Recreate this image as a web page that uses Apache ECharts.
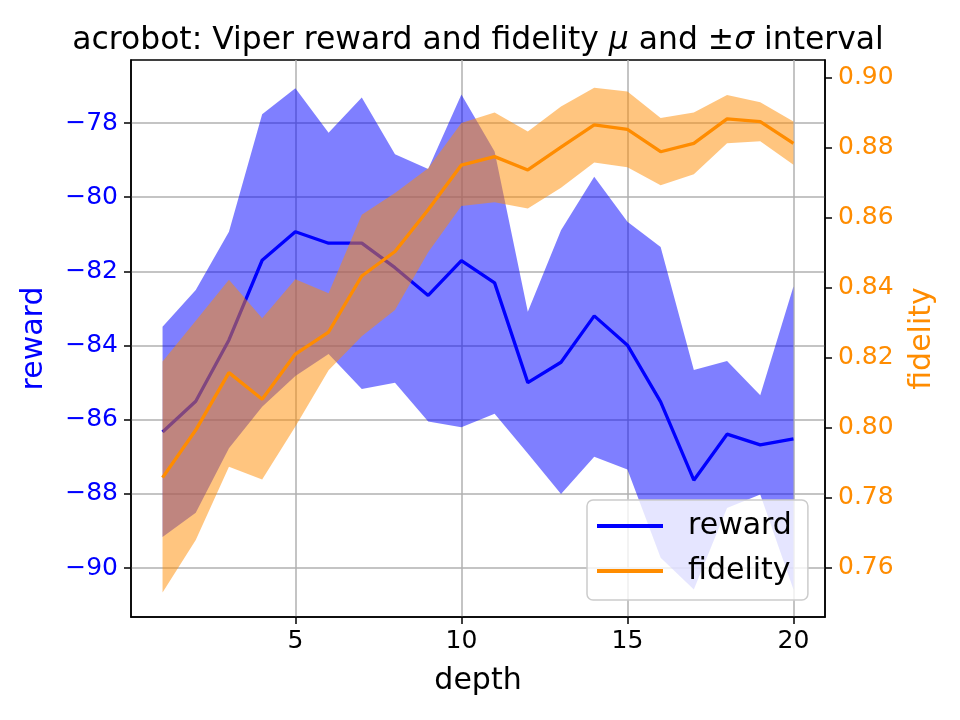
<!DOCTYPE html>
<html>
<head>
<meta charset="utf-8">
<title>acrobot viper</title>
<script src="https://cdn.jsdelivr.net/npm/echarts@6/dist/echarts.min.js"></script>
<style>
html,body{margin:0;padding:0;background:#fff;}
#main{width:960px;height:720px;}
</style>
</head>
<body>
<div id="main"></div>
<script>
var depth = [1, 2, 3, 4, 5, 6, 7, 8, 9, 10, 11, 12, 13, 14, 15, 16, 17, 18, 19, 20];

var rewardMean  = [-86.33, -85.50, -83.85, -81.70, -80.93, -81.24, -81.24, -81.90, -82.65, -81.71,
                   -82.31, -85.00, -84.45, -83.20, -83.99, -85.52, -87.63, -86.39, -86.68, -86.52];
var rewardUpper = [-83.49, -82.50, -80.93, -77.76, -77.06, -78.26, -77.31, -78.84, -79.24, -77.23,
                   -78.77, -83.09, -80.89, -79.45, -80.66, -81.34, -84.66, -84.42, -85.34, -82.41];
var rewardLower = [-89.16, -88.51, -86.77, -85.65, -84.82, -84.23, -85.17, -85.00, -86.05, -86.20,
                   -85.84, -86.91, -88.00, -87.00, -87.34, -89.72, -90.58, -88.38, -88.02, -90.58];

var fidelityMean  = [0.7858, 0.7994, 0.8158, 0.8082, 0.8211, 0.8274, 0.8434, 0.8504, 0.8623, 0.8751,
                     0.8775, 0.8737, 0.8802, 0.8866, 0.8853, 0.8789, 0.8813, 0.8883, 0.8875, 0.8813];
var fidelityUpper = [0.8190, 0.8306, 0.8423, 0.8313, 0.8425, 0.8385, 0.8609, 0.8671, 0.8742, 0.8871,
                     0.8901, 0.8847, 0.8918, 0.8972, 0.8961, 0.8885, 0.8901, 0.8951, 0.8930, 0.8875];
var fidelityLower = [0.7530, 0.7680, 0.7889, 0.7853, 0.8004, 0.8165, 0.8262, 0.8337, 0.8502, 0.8634,
                     0.8645, 0.8627, 0.8686, 0.8758, 0.8745, 0.8693, 0.8725, 0.8813, 0.8819, 0.8752];

var depthTicks = [5, 10, 15, 20];
var rewardTicks = [-90, -88, -86, -84, -82, -80, -78];
var fidelityTicks = [0.76, 0.78, 0.80, 0.82, 0.84, 0.86, 0.88, 0.90];

var FONT = 'DejaVu Sans';
var BLUE = '#0000ff';
var ORANGE = '#ff8c00';

function pairs(xs, ys){
	var out = [];
	for(var i=0;i<xs.length;i++){
		out.push([xs[i], ys[i]]);
	}
	return out;
}
// mu +/- sigma band, drawn as one polygon through the axis scales
function band(axis, lower, upper, color, z){
	var rows = [];
	for(var i=0;i<depth.length;i++){
		rows.push([depth[i], lower[i], upper[i]]);
	}
	return {
		type: 'custom', yAxisIndex: axis, z: z, silent: true,
		data: rows,
		encode: { x: 0, y: [1, 2] },
		renderItem: function(params, api){
			if(params.dataIndex !== 0){
				return;
			}
			var top = [], bottom = [];
			for(var i=0;i<rows.length;i++){
				top.push(api.coord([rows[i][0], rows[i][2]]));
				bottom.unshift(api.coord([rows[i][0], rows[i][1]]));
			}
			return {
				type: 'polygon',
				shape: { points: top.concat(bottom) },
				style: { fill: color, opacity: 0.5 }
			};
		}
	};
}

var myChart = echarts.init(document.getElementById('main'), null, { renderer: 'canvas' });
var option = {
	animation: false,
	title: {
		text: 'acrobot: Viper reward and fidelity {m|μ} and ±{m|σ} interval',
		left: 473, top: 20, textAlign: 'center',
		textStyle: {
			fontFamily: FONT, fontSize: 31.4, fontWeight: 'normal', color: '#000',
			rich: { m: { fontFamily: FONT, fontSize: 31.4, fontStyle: 'italic', color: '#000' } }
		}
	},
	legend: {
		data: ['reward', 'fidelity'],
		orient: 'vertical',
		left: 587, top: 500,
		padding: [11, 16, 14, 10],
		icon: 'rect', itemWidth: 66, itemHeight: 4, itemGap: 15,
		backgroundColor: 'rgba(255,255,255,0.8)',
		borderColor: '#cccccc', borderWidth: 1.5, borderRadius: 6,
		z: 20,
		textStyle: { fontFamily: FONT, fontSize: 30, color: '#000', lineHeight: 30, padding: [0, 0, 0, 20] }
	},
	grid: {
		left: 131, right: 135, top: 60, bottom: 103,
		show: true, borderColor: '#000', borderWidth: 1.5, backgroundColor: 'transparent'
	},
	xAxis: {
		type: 'value', min: 0.05, max: 20.95,
		name: 'depth', nameLocation: 'middle', nameGap: 49,
		nameTextStyle: { fontFamily: FONT, fontSize: 30, color: '#000' },
		axisLine: { show: true, lineStyle: { color: '#000', width: 1.5 } },
		axisTick: { show: true, length: 7, lineStyle: { color: '#000', width: 1.5 }, customValues: depthTicks },
		axisLabel: { fontFamily: FONT, fontSize: 25, color: '#000', margin: 12, customValues: depthTicks },
		splitLine: { show: true, lineStyle: { color: '#b0b0b0', width: 1.5 } }
	},
	yAxis: [{
		type: 'value', min: -91.32, max: -76.3, position: 'left',
		name: 'reward', nameLocation: 'middle', nameGap: 82,
		nameTextStyle: { fontFamily: FONT, fontSize: 30, color: BLUE },
		axisLine: { show: true, lineStyle: { color: '#000', width: 1.5 } },
		axisTick: { show: true, length: 7, lineStyle: { color: '#000', width: 1.5 }, customValues: rewardTicks },
		axisLabel: {
			fontFamily: FONT, fontSize: 25, color: BLUE, margin: 13, customValues: rewardTicks,
			formatter: function(v){ return String(v).replace('-', '\u2212'); }
		},
		splitLine: { show: true, lineStyle: { color: '#b0b0b0', width: 1.5 } }
	},{
		type: 'value', min: 0.746, max: 0.9051, position: 'right',
		name: 'fidelity', nameLocation: 'middle', nameGap: 82,
		nameTextStyle: { fontFamily: FONT, fontSize: 30, color: ORANGE },
		axisLine: { show: true, lineStyle: { color: '#000', width: 1.5 } },
		axisTick: { show: true, length: 7, lineStyle: { color: '#000', width: 1.5 }, customValues: fidelityTicks },
		axisLabel: {
			fontFamily: FONT, fontSize: 25, color: ORANGE, margin: 13, customValues: fidelityTicks,
			formatter: function(v){ return v.toFixed(2); }
		},
		splitLine: { show: false }
	}],
	series: [
		band(0, rewardLower, rewardUpper, BLUE, 1),
		{
			name: 'reward', type: 'line', yAxisIndex: 0, data: pairs(depth, rewardMean),
			symbol: 'none', color: BLUE, z: 2,
			lineStyle: { color: BLUE, width: 3.3 }
		},
		band(1, fidelityLower, fidelityUpper, ORANGE, 3),
		{
			name: 'fidelity', type: 'line', yAxisIndex: 1, data: pairs(depth, fidelityMean),
			symbol: 'none', color: ORANGE, z: 4,
			lineStyle: { color: ORANGE, width: 3.3 }
		}
	]
};
myChart.setOption(option);
</script>
</body>
</html>
